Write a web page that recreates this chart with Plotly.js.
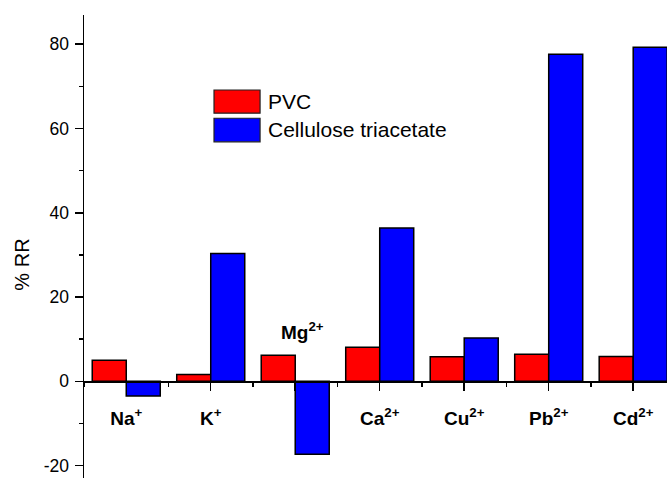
<!DOCTYPE html>
<html>
<head>
<meta charset="utf-8">
<script src="https://cdn.plot.ly/plotly-3.0.1.min.js"></script>
<style>html,body{margin:0;padding:0;background:#fff;}#chart{width:667px;height:478px;}</style>
</head>
<body>
<div id="chart"></div>
<script>
const ions = ["Na<sup>+</sup>", "K<sup>+</sup>", "Mg<sup>2+</sup>", "Ca<sup>2+</sup>", "Cu<sup>2+</sup>", "Pb<sup>2+</sup>", "Cd<sup>2+</sup>"];
const pvc = [5.0, 1.6, 6.2, 8.1, 5.8, 6.4, 5.9];
const cta = [-3.5, 30.3, -17.3, 36.4, 10.3, 77.6, 79.3];
const seriesNames = ["PVC", "Cellulose triacetate"];
const yTitle = "% RR";
const yTicks = [-20, 0, 20, 40, 60, 80];
const yTickLabels = ["-20", "0", "20", "40", "60", "80"];

const xIdx = ions.map((_, i) => i);
const yRange = [-22.95, 86.93];
const zeroPos = (0 - yRange[0]) / (yRange[1] - yRange[0]);
const fontFam = "Liberation Sans, Arial, sans-serif";

const traces = [
  {type: "bar", name: seriesNames[0], x: xIdx, y: pvc,
   marker: {color: "#FF0000", line: {color: "#000", width: 1.5}}, showlegend: false},
  {type: "bar", name: seriesNames[1], x: xIdx, y: cta,
   marker: {color: "#0000FF", line: {color: "#000", width: 1.5}}, showlegend: false}
];

const tickText = ions.map((t, i) => i === 2 ? "" : "<b>" + t + "</b>");

const layout = {
  width: 667, height: 478,
  margin: {l: 84, r: 0, t: 15, b: 0, pad: 0},
  paper_bgcolor: "#fff", plot_bgcolor: "#fff",
  barmode: "group", bargap: 0.195, bargroupgap: 0,
  font: {family: fontFam, color: "#000"},
  xaxis: {
    range: [-0.5, 6.4], anchor: "free", position: zeroPos,
    showline: true, linecolor: "#000", linewidth: 1.5,
    showgrid: false, zeroline: false,
    tickmode: "array", tickvals: xIdx, ticktext: tickText,
    ticks: "outside", ticklen: 8, tickwidth: 1.5, tickcolor: "#000",
    ticklabelstandoff: 11,
    tickfont: {size: 19, family: fontFam, color: "#000"},
    minor: {ticks: "outside", tick0: 0.5, dtick: 1, ticklen: 4, tickwidth: 1.5, tickcolor: "#000", showgrid: false}
  },
  yaxis: {
    range: yRange,
    showline: true, linecolor: "#000", linewidth: 1.5,
    showgrid: false, zeroline: false,
    tickmode: "array", tickvals: yTicks, ticktext: yTickLabels,
    ticks: "outside", ticklen: 8, tickwidth: 1.5, tickcolor: "#000",
    ticklabelstandoff: 2,
    tickfont: {size: 17.5, family: fontFam, color: "#000"},
    minor: {ticks: "outside", tick0: 0, dtick: 10, ticklen: 4, tickwidth: 1.5, tickcolor: "#000", showgrid: false}
  },
  shapes: [
    {type: "rect", xref: "paper", yref: "paper", x0: 0.223, x1: 0.302, y0: 0.788, y1: 0.838,
     fillcolor: "#FF0000", line: {color: "#222", width: 1.2}},
    {type: "rect", xref: "paper", yref: "paper", x0: 0.223, x1: 0.302, y0: 0.726, y1: 0.777,
     fillcolor: "#0000FF", line: {color: "#222", width: 1.2}}
  ],
  annotations: [
    {xref: "paper", yref: "paper", x: 0.312, y: 0.814, xanchor: "left", yanchor: "middle",
     text: seriesNames[0], showarrow: false, font: {size: 21, family: fontFam, color: "#000"}},
    {xref: "paper", yref: "paper", x: 0.312, y: 0.752, xanchor: "left", yanchor: "middle",
     text: seriesNames[1], showarrow: false, font: {size: 21, family: fontFam, color: "#000"}},
    {xref: "x", yref: "y", x: 2, y: 0, xanchor: "center", yanchor: "bottom", xshift: 7, yshift: 36,
     text: "<b>" + ions[2] + "</b>", showarrow: false, font: {size: 19, family: fontFam, color: "#000"}},
    {xref: "paper", yref: "paper", x: -0.107, y: 0.46, xanchor: "center", yanchor: "middle",
     text: yTitle, textangle: -90, showarrow: false, font: {size: 20, family: fontFam, color: "#000"}}
  ]
};

Plotly.newPlot("chart", traces, layout, {displayModeBar: false, staticPlot: true});
</script>
</body>
</html>
